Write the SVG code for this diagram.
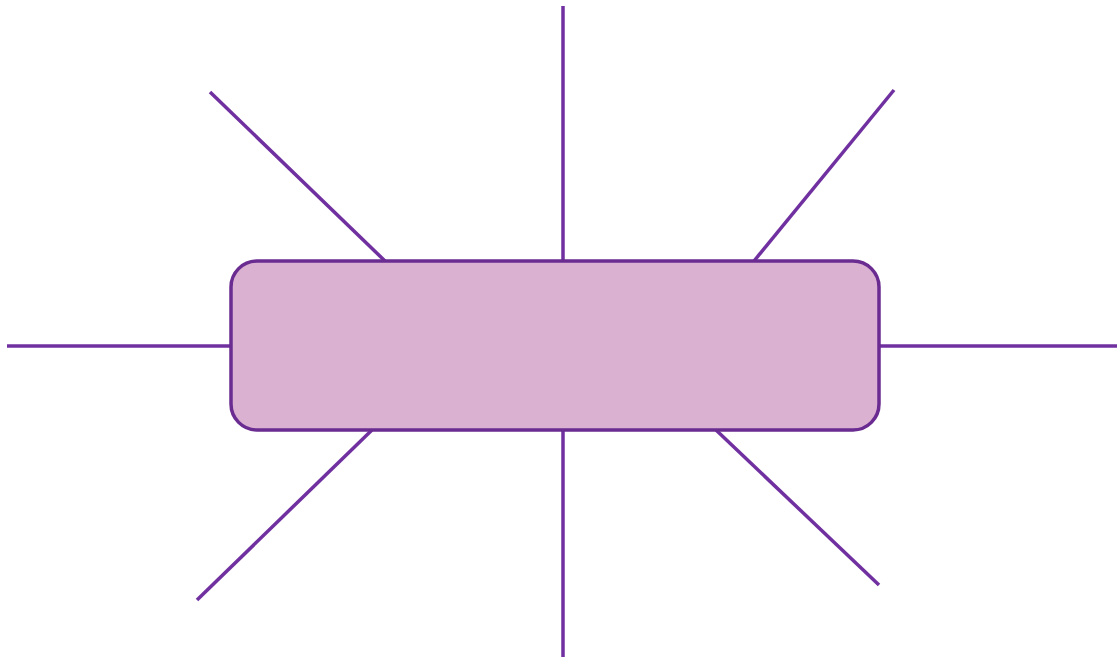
<svg xmlns="http://www.w3.org/2000/svg" width="1117" height="657" viewBox="0 0 1117 657">
<style>
.c{stroke:#7030A0;stroke-width:3.5;fill:none}
.n{fill:#DAB1D1;stroke:#6A2C91;stroke-width:3.5}
</style>
<rect width="1117" height="657" fill="#fff"/>
<g id="connectors">
<line class="c" x1="563" y1="6" x2="563" y2="657"/>
<line class="c" x1="7" y1="346" x2="1117" y2="346"/>
<line class="c" x1="210" y1="92" x2="385" y2="261"/>
<line class="c" x1="894" y1="90" x2="754" y2="261"/>
<line class="c" x1="372" y1="430" x2="197" y2="600"/>
<line class="c" x1="716" y1="430" x2="879" y2="585"/>
</g>
<g id="center">
<rect class="n" x="231" y="261" width="648" height="169" rx="26" ry="26"/>
</g>
</svg>
